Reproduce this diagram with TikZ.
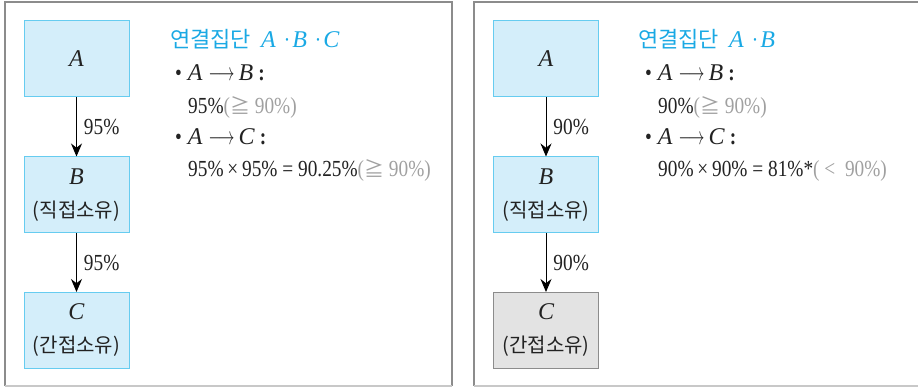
\documentclass[tikz,border=0pt]{standalone}
\usepackage{fontspec}
\setmainfont[FakeStretch=0.84]{Liberation Serif}
\newfontfamily\itfam{Liberation Serif}
\newfontfamily\cjk{Noto Sans CJK KR}
\usetikzlibrary{arrows.meta}
\definecolor{boxfill}{HTML}{D4EEFA}
\definecolor{boxline}{HTML}{66CCF0}
\definecolor{titlec}{HTML}{1AA9E4}
\definecolor{framec}{HTML}{8C8C8C}
\definecolor{framelight}{HTML}{C8C8C8}
\definecolor{graytxt}{HTML}{A0A0A0}
\definecolor{grayfill}{HTML}{E3E3E3}
\definecolor{grayline}{HTML}{8C8C8C}
\definecolor{maintxt}{HTML}{222222}
\newcommand{\larr}{\resizebox{26pt}{\height}{$\longrightarrow$}}
\newcommand{\kr}[1]{{\cjk\fontsize{20}{33}\selectfont #1}}
\newcommand{\vi}[1]{{\itfam\itshape\fontsize{24}{33}\selectfont #1}}
\newcommand{\mygeq}{{\cjk\fontsize{20}{24}\selectfont ≧}}
\newcommand{\bul}[2]{•\hspace{6pt}\vi{#1}\hspace{6pt}\larr\hspace{4pt}\vi{#2}\hspace{5pt}\textbf{:}}
\begin{document}
\begin{tikzpicture}[x=1pt,y=-1pt,
  bluebox/.style={draw=boxline, fill=boxfill, line width=1pt, minimum width=105pt,
    minimum height=76pt, inner sep=0pt, align=center, text=maintxt,
    font=\fontsize{23}{33}\selectfont},
  graybox/.style={bluebox, draw=grayline, fill=grayfill},
  arr/.style={-{Stealth[length=13pt,width=11pt]}, line width=0.9pt, draw=black},
  pct/.style={midway, anchor=west, xshift=7pt, inner sep=0pt, text=maintxt,
    font=\fontsize{23}{24}\selectfont},
  txt/.style={anchor=base west, inner sep=0pt, text=maintxt,
    font=\fontsize{23}{24}\selectfont},
  ttl/.style={txt, text=titlec}]
\useasboundingbox (0,0) rectangle (918,387);

% frames
\draw[framec, line width=1.8pt] (5,386) -- (5,2) -- (452,2) -- (452,386);
\draw[framelight, line width=1.5pt] (5,386) -- (452,386);
\draw[framec, line width=1.8pt] (918,2) -- (474,2) -- (474,386);
\draw[framelight, line width=1.5pt] (474,386) -- (918,386);

% left panel
\node[bluebox] (A1) at (76.5,59) {\vi{A}};
\node[bluebox] (B1) at (76.5,195) {\vi{B}\\\kr{(직접소유)}};
\node[bluebox] (C1) at (76.5,330.5) {\vi{C}\\\kr{(간접소유)}};
\draw[arr] (A1) -- (B1) node[pct] (p1) {95\%};
\draw[arr] (B1) -- (C1) node[pct] (p2) {95\%};

\node[ttl] (t1) at (170,48) {{\cjk\fontsize{22}{24}\selectfont 연결집단}\hspace{10pt}\vi{A}\hspace{8pt}·\hspace{2pt}\vi{B}\hspace{8pt}·\hspace{2pt}\vi{C}};
\node[txt] (l11) at (175,81) {\bul{A}{B}};
\node[txt] (l12) at (188,114) {95\%\textcolor{graytxt}{(\mygeq~90\%)}};
\node[txt] (l13) at (175,145) {\bul{A}{C}};
\node[txt] (l14) at (188,177) {95\%\,×\,95\% = 90.25\%\textcolor{graytxt}{(\mygeq~90\%)}};

% right panel
\node[bluebox] (A2) at (546,59) {\vi{A}};
\node[bluebox] (B2) at (546,195) {\vi{B}\\\kr{(직접소유)}};
\node[graybox] (C2) at (546,330.5) {\vi{C}\\\kr{(간접소유)}};
\draw[arr] (A2) -- (B2) node[pct] (p3) {90\%};
\draw[arr] (B2) -- (C2) node[pct] (p4) {90\%};

\node[ttl] (t2) at (638,48) {{\cjk\fontsize{22}{24}\selectfont 연결집단}\hspace{10pt}\vi{A}\hspace{8pt}·\hspace{2pt}\vi{B}};
\node[txt] (l21) at (645,81) {\bul{A}{B}};
\node[txt] (l22) at (658,114) {90\%\textcolor{graytxt}{(\mygeq~90\%)}};
\node[txt] (l23) at (645,145) {\bul{A}{C}};
\node[txt] (l24) at (658,177) {90\%\,×\,90\% = 81\%*\textcolor{graytxt}{(~<~~90\%)}};
\end{tikzpicture}
\end{document}
